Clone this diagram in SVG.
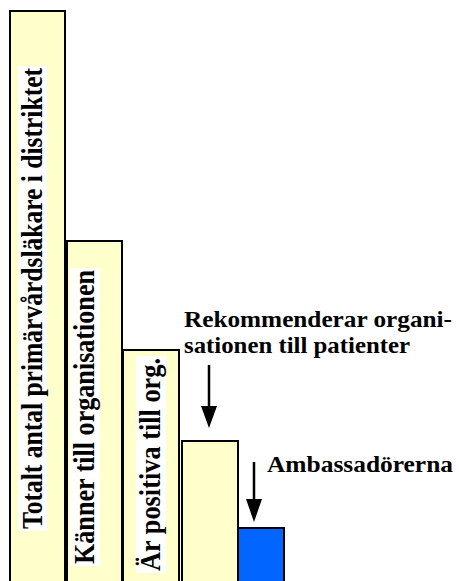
<svg xmlns="http://www.w3.org/2000/svg" width="459" height="581" viewBox="0 0 459 581">
  <style>
    .bar { fill: #ffffcc; stroke: #000; stroke-width: 2; }
    .amb { fill: #0066ff; stroke: #000; stroke-width: 2; }
    .strip { fill: #fff; }
    .vlabel { font-family: "Liberation Serif", "Times New Roman", serif; font-weight: bold; font-size: 29px; fill: #000; }
    .label { font-family: "Liberation Serif", "Times New Roman", serif; font-weight: bold; font-size: 23.5px; fill: #000; }
    .shaft { stroke: #000; stroke-width: 2.5; fill: none; }
    .head { fill: #000; }
  </style>

  <rect width="459" height="581" fill="#fff"/>

  <!-- Total number of GPs in the district -->
  <g id="bar-totalt">
    <rect class="bar" x="10" y="11" width="55" height="580"/>
    <rect class="strip" x="18" y="66" width="29" height="465"/>
    <text class="vlabel" transform="translate(42,529) rotate(-90)" textLength="461" lengthAdjust="spacingAndGlyphs">Totalt antal primärvårdsläkare i distriktet</text>
  </g>

  <!-- Aware of the organisation -->
  <g id="bar-kanner">
    <rect class="bar" x="67" y="241" width="55" height="350"/>
    <rect class="strip" x="70" y="268" width="30" height="298"/>
    <text class="vlabel" transform="translate(94,564) rotate(-90)" textLength="294" lengthAdjust="spacingAndGlyphs">Känner till organisationen</text>
  </g>

  <!-- Positive towards the organisation -->
  <g id="bar-positiva">
    <rect class="bar" x="123" y="350" width="56" height="241"/>
    <rect class="strip" x="136" y="356" width="30" height="217"/>
    <text class="vlabel" transform="translate(160,571) rotate(-90)" textLength="213" lengthAdjust="spacingAndGlyphs">Är positiva till org.</text>
  </g>

  <!-- Recommends to patients -->
  <g id="bar-rekommenderar">
    <rect class="bar" x="182" y="441" width="56" height="150"/>
  </g>

  <!-- Ambassadors -->
  <g id="bar-ambassadorer">
    <rect class="amb" x="238" y="528" width="46" height="63"/>
  </g>

  <!-- Callout labels -->
  <g id="label-rekommenderar">
    <text class="label" x="184" y="327" textLength="268" lengthAdjust="spacingAndGlyphs">Rekommenderar organi-</text>
    <text class="label" x="184" y="353" textLength="226" lengthAdjust="spacingAndGlyphs">sationen till patienter</text>
  </g>
  <g id="label-ambassadorer">
    <text class="label" x="267" y="472" textLength="186" lengthAdjust="spacingAndGlyphs">Ambassadörerna</text>
  </g>

  <!-- Pointer arrows -->
  <g id="connectors">
    <line class="shaft" x1="209" y1="365" x2="209" y2="408"/>
    <polygon class="head" points="201,406 217,406 209,428"/>
    <line class="shaft" x1="254" y1="462" x2="254" y2="501"/>
    <polygon class="head" points="246,499 262,499 254,522"/>
  </g>
</svg>
